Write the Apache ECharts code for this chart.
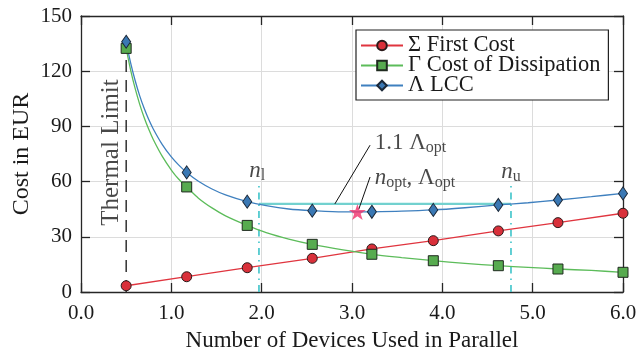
<!DOCTYPE html>
<html>
<head>
<meta charset="utf-8">
<script src="https://cdn.jsdelivr.net/npm/echarts@6/dist/echarts.min.js"></script>
<style>
  html, body { margin: 0; padding: 0; background: #ffffff; }
  #chart { width: 637px; height: 352px; }
</style>
</head>
<body>
<div id="chart"></div>
<script>
// Device counts at which the cost markers are plotted
const nMarks = [0.5, 1.17, 1.84, 2.56, 3.22, 3.9, 4.62, 5.28, 6.0];
// Σ first cost (EUR)
const firstCost = [3.4, 8.3, 13.2, 18.3, 23.4, 27.9, 33.2, 37.7, 42.8];
// Γ cost of dissipation (EUR)
const dissipationCost = [132.4, 57.1, 36.2, 25.9, 20.5, 17.0, 14.3, 12.5, 10.7];
// Λ life-cycle cost (EUR)
const lccCost = [136.0, 65.0, 49.1, 44.2, 43.6, 44.6, 47.3, 50.0, 53.6];

// Further readings along the continuous curves, drawn without markers
const nCurve = [0.55, 0.6, 0.65, 0.7, 0.75, 0.8, 0.9, 1.0, 1.08, 1.3, 1.45, 1.6,
                2.05, 2.3, 2.9, 3.55, 4.25, 4.95, 5.65];
const dissipationCurve = [120.5, 110.5, 102.0, 94.7, 88.4, 82.9, 73.7, 66.3, 61.4, 51.0, 45.7, 41.4,
                          32.3, 28.8, 22.9, 18.7, 15.6, 13.4, 11.7];
const lccCurve = [124.4, 114.8, 106.6, 99.7, 93.7, 88.6, 80.1, 73.4, 69.1, 60.2, 56.0, 52.8,
                  46.9, 45.1, 43.5, 43.9, 45.8, 48.5, 51.8];

// Axis ranges / ticks
const xRange = [0, 6];
const xStep = 1;
const yRange = [0, 150];
const yStep = 30;

// Design limits and optimum
const thermalLimitN = 0.5;
const thermalLineTop = 132;
const nOpt = 3.06;
const lccOpt = 43.5;
const lccBand = 47.85;          // 1.1 · Λ_opt
const nLower = 1.97;
const nUpper = 4.76;
const boundLineTop = 58;

const FONT = 'Liberation Serif';
const INK = '#1a1a1a';

function withCurve(nA, vA, nB, vB) {
  const pts = nA.map((n, i) => ({ value: [n, vA[i]] }));
  if (nB) nB.forEach((n, i) => pts.push({ value: [n, vB[i]], symbol: 'none' }));
  return pts.sort((a, b) => a.value[0] - b.value[0]);
}

const rich = {
  r: { fontFamily: FONT, fontSize: 23, lineHeight: 25, color: INK, verticalAlign: 'middle' },
  i: { fontFamily: FONT, fontSize: 23, lineHeight: 25, color: INK, fontStyle: 'italic', verticalAlign: 'middle' },
  s: { fontFamily: FONT, fontSize: 16, lineHeight: 10, color: INK, verticalAlign: 'bottom' }
};

function segment(points, color, width, type, z) {
  return {
    type: 'line', data: points, symbol: 'none', silent: true, z: z || 2,
    lineStyle: { color: color, width: width, type: type || 'solid' },
    animation: false
  };
}

function textAt(point, formatter, position, rotate, size) {
  return {
    type: 'scatter', data: [point], symbolSize: 1, silent: true, z: 6,
    itemStyle: { color: 'rgba(0,0,0,0)' },
    label: {
      show: true, position: position, distance: 0, rotate: rotate || 0,
      formatter: formatter, rich: rich,
      fontFamily: FONT, fontSize: size || 22, color: INK
    },
    animation: false
  };
}

const axisLineStyle = { color: '#262626', width: 1.3 };

const option = {
  backgroundColor: '#ffffff',
  animation: false,
  grid: { left: 81, right: 14, top: 16, bottom: 60, outerBoundsMode: 'none', containLabel: false },
  legend: {
    orient: 'vertical',
    left: 356, top: 30,
    padding: [4, 8, 3, 4],
    itemGap: -3,
    itemWidth: 42,
    itemHeight: 12,
    itemTextGap: 4,
    backgroundColor: '#ffffff',
    borderColor: '#222222',
    borderWidth: 1.2,
    borderRadius: 0,
    textStyle: { fontFamily: FONT, fontSize: 22.5, lineHeight: 19, color: INK },
    data: ['Σ First Cost', 'Γ Cost of Dissipation', 'Λ LCC']
  },
  xAxis: [
    {
      type: 'value', min: xRange[0], max: xRange[1], interval: xStep, position: 'bottom',
      axisLine: { show: true, onZero: false, lineStyle: axisLineStyle },
      axisTick: { show: true, inside: true, length: 9, lineStyle: axisLineStyle },
      splitLine: { show: true, lineStyle: { color: '#dcdcdc', width: 1 } },
      axisLabel: { fontFamily: FONT, fontSize: 21, color: INK, margin: 11, formatter: v => v.toFixed(1) },
      name: 'Number of Devices Used in Parallel',
      nameLocation: 'middle', nameGap: 37, nameMoveOverlap: false,
      nameTextStyle: { fontFamily: FONT, fontSize: 23, color: INK }
    },
    {
      type: 'value', min: xRange[0], max: xRange[1], interval: xStep, position: 'top',
      axisLine: { show: true, onZero: false, lineStyle: axisLineStyle },
      axisTick: { show: true, inside: true, length: 9, lineStyle: axisLineStyle },
      splitLine: { show: false }, axisLabel: { show: false }
    }
  ],
  yAxis: [
    {
      type: 'value', min: yRange[0], max: yRange[1], interval: yStep, position: 'left',
      axisLine: { show: true, onZero: false, lineStyle: axisLineStyle },
      axisTick: { show: true, inside: true, length: 9, lineStyle: axisLineStyle },
      splitLine: { show: true, lineStyle: { color: '#dcdcdc', width: 1 } },
      axisLabel: { fontFamily: FONT, fontSize: 21, color: INK, margin: 9 },
      name: 'Cost in EUR',
      nameLocation: 'middle', nameGap: 47, nameRotate: 90, nameMoveOverlap: false,
      nameTextStyle: { fontFamily: FONT, fontSize: 24, color: INK }
    },
    {
      type: 'value', min: yRange[0], max: yRange[1], interval: yStep, position: 'right',
      axisLine: { show: true, onZero: false, lineStyle: axisLineStyle },
      axisTick: { show: true, inside: true, length: 9, lineStyle: axisLineStyle },
      splitLine: { show: false }, axisLabel: { show: false }
    }
  ],
  series: [
    // Thermal limit
    segment([[thermalLimitN, 0], [thermalLimitN, thermalLineTop]], '#111111', 1.3, [12, 8], 2),
    // Cost band bounds n_l, n_u
    segment([[nLower, 0], [nLower, boundLineTop]], '#3cc3c9', 1.6, [7, 5, 1.5, 5], 2),
    segment([[nUpper, 0], [nUpper, boundLineTop]], '#3cc3c9', 1.6, [7, 5, 1.5, 5], 2),
    // 1.1 · Λ_opt level
    segment([[nLower, lccBand], [nUpper, lccBand]], '#72d1cf', 2.2, 'solid', 2),
    {
      name: 'Σ First Cost', type: 'line', z: 4,
      data: withCurve(nMarks, firstCost),
      symbol: 'circle', symbolSize: 10, showAllSymbol: true,
      lineStyle: { color: '#e0353f', width: 1.3 },
      itemStyle: { color: '#d9303a', borderColor: '#2a1a1a', borderWidth: 1 }
    },
    {
      name: 'Γ Cost of Dissipation', type: 'line', z: 4,
      data: withCurve(nMarks, dissipationCost, nCurve, dissipationCurve),
      smooth: 0.3,
      symbol: 'rect', symbolSize: 10, showAllSymbol: true,
      lineStyle: { color: '#5cbc5a', width: 1.3 },
      itemStyle: { color: '#57ab4f', borderColor: '#1f2a1f', borderWidth: 1 }
    },
    {
      name: 'Λ LCC', type: 'line', z: 4,
      data: withCurve(nMarks, lccCost, nCurve, lccCurve),
      smooth: 0.3,
      symbol: 'diamond', symbolSize: [9, 13], showAllSymbol: true,
      lineStyle: { color: '#3f80bf', width: 1.3 },
      itemStyle: { color: '#3a78b4', borderColor: '#1b2838', borderWidth: 1 }
    },
    // Leader lines for the annotations
    segment([[2.81, lccBand], [3.2, 79.8]], '#111111', 1, 'solid', 5),
    segment([[3.075, 45.0], [3.2, 62.5]], '#111111', 1, 'solid', 5),
    // Optimum
    {
      type: 'scatter', z: 7, silent: true,
      data: [[nOpt, lccOpt]],
      symbol: 'path://M50,0 L61.2,34.5 L97.6,34.5 L68.2,55.9 L79.4,90.5 L50,69.1 L20.6,90.5 L31.8,55.9 L2.4,34.5 L38.8,34.5 Z',
      symbolSize: [17, 16],
      itemStyle: { color: '#f02f6a' }
    },
    textAt([0.34, 75.8], 'Thermal Limit', 'inside', 90, 25),
    textAt([3.245, 81], '{r|1.1 Λ}{s|opt}', 'right'),
    textAt([3.245, 62], '{i|n}{s|opt}{r|, Λ}{s|opt}', 'right'),
    textAt([1.95, 65.8], '{i|n}{s|l}', 'inside'),
    textAt([4.76, 65.2], '{i|n}{s|u}', 'inside')
  ]
};

const chart = echarts.init(document.getElementById('chart'), null, { renderer: 'canvas' });
chart.setOption(option);
</script>
</body>
</html>
